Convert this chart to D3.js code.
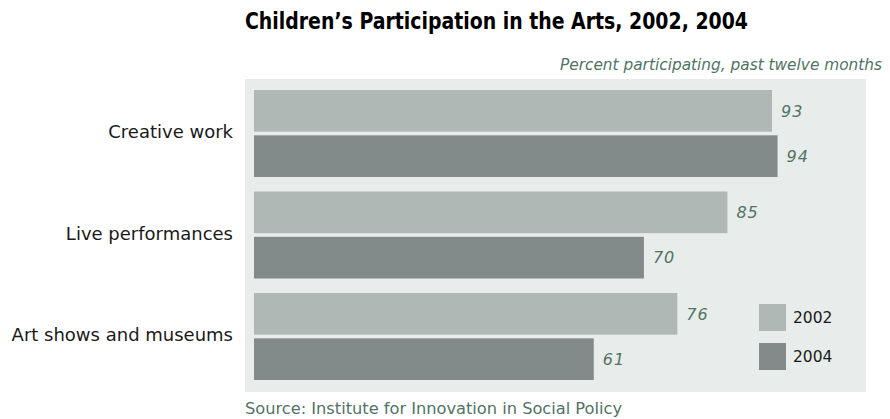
<!DOCTYPE html>
<html><head><meta charset="utf-8">
<script src="https://cdn.jsdelivr.net/npm/d3@7"></script>
<style>body{margin:0;background:#fff;} svg{display:block;}</style>
</head><body>
<svg id="chart" width="890" height="419"></svg>
<script>
const categories = ["Creative work", "Live performances", "Art shows and museums"];
const years = ["2002", "2004"];
const values2002 = [93, 85, 76];
const values2004 = [94, 70, 61];
const titleText = "Children\u2019s Participation in the Arts, 2002, 2004";
const subtitleText = "Percent participating, past twelve months";
const sourceText = "Source: Institute for Innovation in Social Policy";

const colors = {"2002": "#b0b8b6", "2004": "#838a8a"};
const green = "#4f7464";
const svg = d3.select("#chart");

const rows = categories.map((c, i) => ({cat: c, vals: [{year: "2002", v: values2002[i]}, {year: "2004", v: values2004[i]}]}));

const x = d3.scaleLinear().domain([0, 100]).range([254, 811]);
const y0 = d3.scaleBand().domain(categories).range([90, 380]).paddingInner(14.5/101.5).paddingOuter(0);
const y1 = d3.scaleBand().domain(years).range([0, y0.bandwidth()]).paddingInner(0.08).paddingOuter(0);

// panel
svg.append("rect").attr("x", 245).attr("y", 79).attr("width", 621).attr("height", 313).attr("fill", "#e8edeb");

// title
svg.append("text").attr("x", 245).attr("y", 29)
  .attr("font-family", "'Liberation Sans Narrow','DejaVu Sans Condensed','Liberation Sans',sans-serif")
  .attr("font-weight", "bold").attr("font-size", 23).attr("fill", "#000")
  .attr("textLength", 503).attr("lengthAdjust", "spacingAndGlyphs")
  .text(titleText);

svg.append("text").attr("x", 882).attr("y", 70).attr("text-anchor", "end")
  .attr("font-family", "'DejaVu Sans',sans-serif").attr("font-style", "italic")
  .attr("font-size", 15.3).attr("fill", green)
  .attr("textLength", 322).attr("lengthAdjust", "spacingAndGlyphs")
  .text(subtitleText);

const g = svg.append("g");
const groups = g.selectAll("g.grp").data(rows).join("g").attr("class", "grp")
  .attr("transform", d => `translate(0,${y0(d.cat)})`);

groups.selectAll("rect").data(d => d.vals).join("rect")
  .attr("x", x(0)).attr("y", d => y1(d.year))
  .attr("width", d => x(d.v) - x(0)).attr("height", y1.bandwidth())
  .attr("fill", d => colors[d.year]);

groups.selectAll("text.val").data(d => d.vals).join("text").attr("class", "val")
  .attr("x", d => x(d.v) + 9).attr("y", d => y1(d.year) + y1.bandwidth()/2).attr("dy", "0.36em")
  .attr("font-family", "'DejaVu Sans',sans-serif").attr("font-style", "italic")
  .attr("font-size", 16).attr("fill", green).attr("letter-spacing", 1)
  .text(d => d.v);

// category labels
svg.selectAll("text.cat").data(categories).join("text").attr("class", "cat")
  .attr("x", 233).attr("y", d => y0(d) + y0.bandwidth()/2 + 4.5)
  .attr("text-anchor", "end")
  .attr("font-family", "'DejaVu Sans',sans-serif").attr("font-size", 18).attr("fill", "#1a1a1a")
  .text(d => d);

// legend
const leg = svg.selectAll("g.leg").data(years).join("g").attr("class", "leg")
  .attr("transform", (d, i) => `translate(759,${304 + i * 39})`);
leg.append("rect").attr("width", 27).attr("height", 27).attr("fill", d => colors[d]);
leg.append("text").attr("x", 34).attr("y", 13.5).attr("dy", "0.36em")
  .attr("font-family", "'DejaVu Sans',sans-serif").attr("font-size", 15.5).attr("fill", "#1a1a1a")
  .text(d => d);

// source
svg.append("text").attr("x", 245).attr("y", 414)
  .attr("font-family", "'DejaVu Sans',sans-serif").attr("font-size", 16).attr("fill", green)
  .attr("textLength", 377).attr("lengthAdjust", "spacingAndGlyphs")
  .text(sourceText);
</script>
</body></html>
